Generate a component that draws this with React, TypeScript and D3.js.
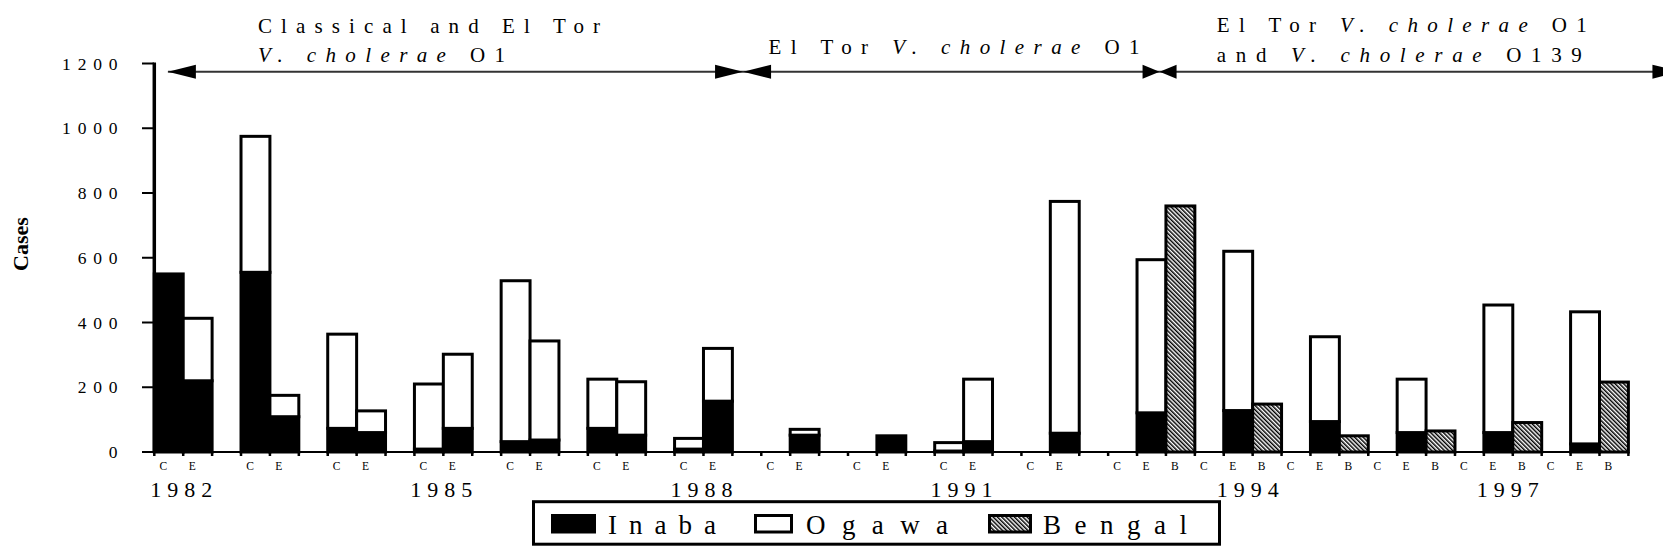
import React from 'react';
import * as d3 from 'd3';

// ---------- data ----------
const years = [1982, 1983, 1984, 1985, 1986, 1987, 1988, 1989, 1990, 1991, 1992, 1993, 1994, 1995, 1996, 1997, 1998];
// Classical (C)
const classicalInaba = [550, 555, 73, 9, 32, 73, 9, 0, 0, 3, 0, 0, 0, 0, 0, 0, 0];
const classicalOgawa = [0, 420, 291, 201, 497, 152, 33, 0, 0, 26, 0, 0, 0, 0, 0, 0, 0];
// El Tor (E)
const elTorInaba = [220, 109, 60, 73, 37, 52, 157, 52, 50, 32, 58, 121, 128, 94, 60, 60, 25];
const elTorOgawa = [193, 66, 67, 229, 306, 165, 163, 18, 0, 193, 716, 473, 492, 262, 165, 394, 408];
// Bengal (B, O139)
const bengalYears = [1993, 1994, 1995, 1996, 1997, 1998];
const bengalCases = [760, 148, 50, 65, 91, 216];

const yTicks = [0, 200, 400, 600, 800, 1000, 1200];
const labeledYears = [1982, 1985, 1988, 1991, 1994, 1997];
const legendLabels = ['Inaba', 'Ogawa', 'Bengal'];
// era arrow boundaries, in category-slot units
const eraBounds = [0.47, 20.37, 34.78, 52.8];

const W = 1663;
const H = 555;
const FONT = "'Liberation Serif', 'Times New Roman', Times, serif";

export default function App() {
  const slots = years.flatMap((yr) =>
    (bengalYears.includes(yr) ? ['C', 'E', 'B'] : ['C', 'E', '']).map((s, i) => ({ year: yr, strain: s, key: `${yr}-${i}` }))
  );
  const x = d3.scaleBand<string>().domain(slots.map((s) => s.key)).range([154.3, 1628.4]).padding(0);
  const bw = x.bandwidth();
  const y = d3.scaleLinear().domain([0, 1200]).range([452, 63.5]);
  const slotX = d3.scaleLinear().domain([0, slots.length]).range([154.3, 1628.4]);

  const bars: JSX.Element[] = [];
  years.forEach((yr, i) => {
    const stacks: [string, number, number][] = [
      [`${yr}-0`, classicalInaba[i], classicalOgawa[i]],
      [`${yr}-1`, elTorInaba[i], elTorOgawa[i]],
    ];
    stacks.forEach(([key, inaba, ogawa]) => {
      const bx = x(key)!;
      if (inaba > 0) {
        bars.push(
          <rect key={key + 'i'} x={bx} width={bw} y={y(inaba)} height={y(0) - y(inaba)} fill="#000" stroke="#000" strokeWidth={3} />
        );
      }
      if (ogawa > 0) {
        bars.push(
          <rect key={key + 'o'} x={bx} width={bw} y={y(inaba + ogawa)} height={y(inaba) - y(inaba + ogawa)} fill="#fff" stroke="#000" strokeWidth={3} />
        );
      }
    });
    const bi = bengalYears.indexOf(yr);
    if (bi >= 0) {
      const key = `${yr}-2`;
      const v = bengalCases[bi];
      bars.push(
        <rect key={key + 'b'} x={x(key)!} width={bw} y={y(v)} height={y(0) - y(v)} fill="url(#hatch)" stroke="#000" strokeWidth={3} />
      );
    }
  });

  const ticksX = d3.range(slots.length + 1).map((k) => slotX(k));

  const arrowY = 71.7;
  const arrows: JSX.Element[] = [];
  const head = (tip: number, dir: number, len: number, k: string) => (
    <path key={k} d={`M${tip},${arrowY} L${tip - dir * len},${arrowY - 7} L${tip - dir * len},${arrowY + 7} Z`} fill="#000" />
  );
  const bx = eraBounds.map((b) => slotX(b));
  arrows.push(<line key="al" x1={bx[0]} x2={bx[bx.length - 1]} y1={arrowY} y2={arrowY} stroke="#333" strokeWidth={2} />);
  arrows.push(head(bx[0], -1, 28, 'h0'));
  arrows.push(head(bx[1], 1, 28, 'h1r'));
  arrows.push(head(bx[1], -1, 28, 'h1l'));
  arrows.push(head(bx[2], 1, 17, 'h2r'));
  arrows.push(head(bx[2], -1, 17, 'h2l'));
  arrows.push(head(bx[3], 1, 28, 'h3'));

  const yearLabelX = (yr: number) => {
    const three = bengalYears.includes(yr);
    return three ? x(`${yr}-2`)! - 5 : x(`${yr}-1`)! - 2;
  };

  const legendX = [551, 754, 988];
  const legendTextX = [608, 806, 1043];
  const legendTextLen = [108, 142, 144];

  return (
    <svg width={W} height={H} style={{ position: 'absolute', left: 0, top: 0, background: '#fff' }} fontFamily={FONT}>
      <defs>
        <pattern id="hatch" patternUnits="userSpaceOnUse" width={3} height={3} patternTransform="rotate(-45)">
          <rect width={3} height={3} fill="#fff" />
          <rect width={1.5} height={3} fill="#000" />
        </pattern>
      </defs>
      <rect width={W} height={H} fill="#fff" />

      {/* era titles */}
      <text x={258} y={33} fontSize={21} textLength={342} lengthAdjust="spacing">Classical and El Tor</text>
      <text x={258} y={61.7} fontSize={21} textLength={247} lengthAdjust="spacing">
        <tspan fontStyle="italic">V. cholerae</tspan> O1
      </text>
      <text x={768.6} y={54} fontSize={21} textLength={371} lengthAdjust="spacing">
        El Tor <tspan fontStyle="italic">V. cholerae</tspan> O1
      </text>
      <text x={1216.8} y={32.3} fontSize={21} textLength={370} lengthAdjust="spacing">
        El Tor <tspan fontStyle="italic">V. cholerae</tspan> O1
      </text>
      <text x={1216.8} y={61.7} fontSize={21} textLength={365} lengthAdjust="spacing">
        and <tspan fontStyle="italic">V. cholerae</tspan> O139
      </text>
      {arrows}

      {/* bars */}
      {bars}

      {/* y axis */}
      <line x1={154.3} x2={154.3} y1={y(1200) - 1} y2={y(0) + 1} stroke="#000" strokeWidth={3.5} />
      {yTicks.map((t) => (
        <g key={t}>
          <line x1={142} x2={154} y1={y(t)} y2={y(t)} stroke="#000" strokeWidth={2} />
          <text x={117.5 + 6.8} y={y(t) + 6} fontSize={17.5} textAnchor="end" letterSpacing={6.8}>
            {String(t)}
          </text>
        </g>
      ))}
      <text transform={`translate(28,244) rotate(-90)`} fontSize={22} fontWeight="bold" textAnchor="middle">
        Cases
      </text>

      {/* x axis */}
      <line x1={154.3} x2={1628.4} y1={y(0)} y2={y(0)} stroke="#000" strokeWidth={2} />
      {ticksX.map((tx, k) => (
        <line key={k} x1={tx} x2={tx} y1={y(0)} y2={y(0) + 4} stroke="#000" strokeWidth={2.5} />
      ))}
      {slots
        .filter((s) => s.strain)
        .map((s) => (
          <text key={s.key} x={x(s.key)! + bw / 2 - 5.5} y={469.5} fontSize={11.5} textAnchor="middle">
            {s.strain}
          </text>
        ))}
      {labeledYears.map((yr) => (
        <text key={yr} x={yearLabelX(yr) + 3} y={496.5} fontSize={22} textAnchor="middle" letterSpacing={6}>
          {yr}
        </text>
      ))}

      {/* legend */}
      <rect x={533.5} y={501.7} width={686} height={42.5} fill="#fff" stroke="#000" strokeWidth={3} />
      <rect x={legendX[0]} y={514} width={45} height={19.5} fill="#000" />
      <rect x={legendX[1] + 1.5} y={515.5} width={36} height={16.5} fill="#fff" stroke="#000" strokeWidth={3} />
      <rect x={legendX[2] + 1.5} y={515.5} width={41} height={16.5} fill="url(#hatch)" stroke="#000" strokeWidth={3} />
      {legendLabels.map((l, i) => (
        <text key={l} x={legendTextX[i]} y={534} fontSize={27} textLength={legendTextLen[i]} lengthAdjust="spacing">
          {l}
        </text>
      ))}
    </svg>
  );
}
